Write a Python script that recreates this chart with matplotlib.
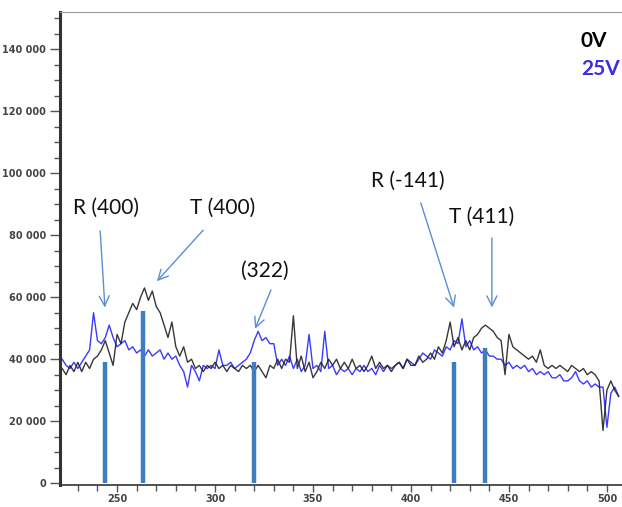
import numpy as np
import matplotlib.pyplot as plt
from matplotlib.ticker import MultipleLocator, FuncFormatter

# wavenumber grid (cm-1) and intensities in thousands of counts
wavenumber = np.arange(222, 508, 2)

counts_0v = [
    37, 35, 38, 36, 39, 36, 39, 37, 40, 41, 43, 46, 42, 38, 48, 45, 52, 55,
    58, 56, 60, 63, 59, 62, 57, 55, 51, 47, 52, 44, 41, 44, 39, 40, 37, 38,
    36, 38, 37, 39, 37, 38, 36, 38, 37, 36, 38, 37, 38, 36, 38, 36, 34, 38,
    37, 40, 37, 40, 39, 54, 37, 41, 36, 39, 34, 36, 39, 37, 40, 38, 40, 37,
    39, 37, 40, 37, 38, 36, 38, 41, 37, 39, 37, 38, 36, 38, 39, 37, 40, 38,
    38, 41, 39, 40, 42, 40, 44, 42, 46, 52, 44, 47, 43, 46, 43, 47, 48, 50,
    51, 50, 49, 47, 46, 35, 48, 44, 43, 42, 41, 40, 41, 39, 43, 38, 37, 38,
    37, 38, 37, 36, 38, 37, 36, 37, 35, 36, 35, 33, 17, 30, 33, 30, 28,
]

counts_25v = [
    40, 38, 37, 39, 37, 39, 41, 43, 55, 46, 45, 47, 51, 47, 44, 45, 46, 43,
    44, 42, 43, 41, 43, 41, 42, 43, 40, 42, 40, 41, 38, 36, 31, 38, 36, 33,
    38, 37, 38, 37, 43, 38, 38, 39, 37, 38, 39, 40, 42, 46, 49, 46, 47, 45,
    45, 38, 40, 38, 41, 37, 40, 36, 38, 48, 37, 38, 36, 49, 37, 38, 35, 37,
    36, 37, 35, 37, 36, 38, 36, 37, 35, 38, 36, 38, 37, 38, 39, 37, 40, 39,
    38, 40, 42, 41, 40, 43, 42, 41, 44, 43, 46, 45, 53, 44, 46, 43, 44, 42,
    43, 41, 41, 40, 40, 38, 39, 37, 38, 37, 38, 36, 37, 35, 36, 35, 36, 34,
    34, 35, 33, 33, 34, 36, 33, 32, 33, 31, 32, 31, 31, 18, 29, 31, 28,
]

# assigned mode positions (vertical markers) and their heights
mode_pos = [244, 263, 320, 422, 438]
mode_height = [39000, 55500, 39000, 39000, 43500]

# labels: (text, text position, arrow tail, arrow head)
labels = [
    ("R (400)", (244.4, 88700), (241.3, 82300), (243.9, 55800)),
    ("T (400)", (304.1, 88700), (294.9, 82300), (269.4, 64500)),
    ("(322)", (325.5, 68400), (329.1, 63200), (319.9, 49000)),
    ("R (-141)", (398.5, 97400), (404.6, 91300), (422.4, 55800)),
    ("T (411)", (436.2, 85800), (441.3, 80000), (441.3, 55800)),
]

fig = plt.figure(figsize=(6.22, 5.07), dpi=100)
ax = fig.add_axes([0.0965, 0.0434, 0.9035, 0.9326])

ax.plot(wavenumber, np.array(counts_25v) * 1000, color="#3a3aff", lw=1.0)
ax.plot(wavenumber, np.array(counts_0v) * 1000, color="#222222", lw=1.0, alpha=0.9)
ax.vlines(mode_pos, 0, mode_height, color="#3f7cc0", lw=3.2, zorder=3)

arrow_color = "#5b8fd0"
for text, txy, tail, head in labels:
    ax.text(txy[0], txy[1], text, ha="center", va="center",
            fontsize=15, family="Lato", color="#111111")
    ax.annotate("", xy=head, xytext=tail,
                arrowprops=dict(arrowstyle="->", color=arrow_color, lw=1.0,
                                mutation_scale=18))

ax.text(0.927, 0.94, "0V", transform=ax.transAxes, fontsize=15,
        fontweight="bold", color="black", family="Lato", va="center")
ax.text(0.927, 0.88, "25V", transform=ax.transAxes, fontsize=15,
        fontweight="bold", color="#3a2ee0", family="Lato", va="center")

ax.set_xlim(220.9, 507.7)
ax.set_ylim(-600, 152000)

ax.xaxis.set_major_locator(MultipleLocator(50))
ax.xaxis.set_minor_locator(MultipleLocator(10))
ax.yaxis.set_major_locator(MultipleLocator(20000))
ax.yaxis.set_minor_locator(MultipleLocator(5000))
ax.yaxis.set_major_formatter(FuncFormatter(lambda v, p: f"{int(v):,}".replace(",", " ")))

ax.tick_params(which="both", direction="out", color="#555555", width=1,
               labelsize=7, labelcolor="#444444")
ax.tick_params(axis="y", which="major", length=7, pad=3)
ax.tick_params(axis="y", which="minor", length=4)
ax.tick_params(axis="x", which="major", length=5, pad=1.5)
ax.tick_params(axis="x", which="minor", length=4)
for lab in ax.get_xticklabels() + ax.get_yticklabels():
    lab.set_fontweight("bold")

ax.spines["right"].set_visible(False)
ax.spines["top"].set_color("#999999")
ax.spines["left"].set_color("#333333")
ax.spines["left"].set_linewidth(2.2)
ax.spines["bottom"].set_color("#333333")
ax.spines["bottom"].set_linewidth(1.2)

fig.savefig("out.png", dpi=100)
